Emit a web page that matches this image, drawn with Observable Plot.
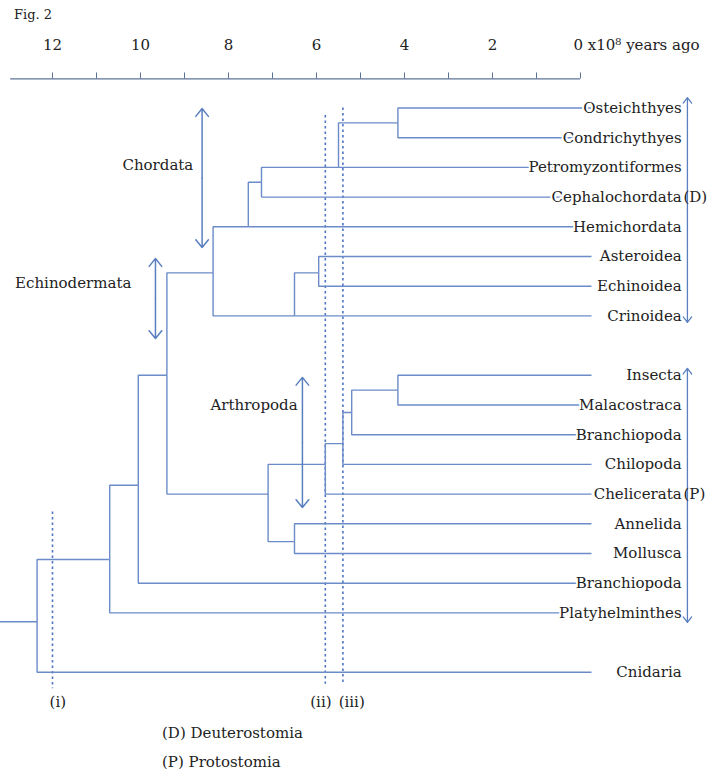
<!DOCTYPE html>
<html>
<head>
<meta charset="utf-8">
<script src="https://cdn.jsdelivr.net/npm/d3@7"></script>
<script src="https://cdn.jsdelivr.net/npm/@observablehq/plot@0.6"></script>
<style>
  html, body { margin: 0; padding: 0; background: #fff; }
  body { width: 713px; font-family: "DejaVu Serif", serif; color: #222; }
  #fig { height: 30px; line-height: 30px; padding-left: 14px; font-size: 13px; }
  #chart svg { display: block; }
  #notes { padding-left: 162px; margin-top: 4px; font-size: 15px; line-height: 29px; }
</style>
</head>
<body>
<div id="fig">Fig. 2</div>
<div id="chart"></div>
<div id="notes"><div>(D) Deuterostomia</div><div>(P) Protostomia</div></div>
<script>
// ---- data (ages in 10^8 years ago, rows top to bottom) ----
const tickValues = [12, 11, 10, 9, 8, 7, 6, 5, 4, 3, 2, 1, 0];
const tickLabels = [12, 10, 8, 6, 4, 2];
const zeroLabel = "0 x10\u2078 years ago";

const leafNames = ["Osteichthyes","Condrichythyes","Petromyzontiformes","Cephalochordata","Hemichordata",
  "Asteroidea","Echinoidea","Crinoidea","Insecta","Malacostraca","Branchiopoda","Chilopoda","Chelicerata",
  "Annelida","Mollusca","Branchiopoda","Platyhelminthes","Cnidaria"];
const leafRows = [0,1,2,3,4,5,6,7,9,10,11,12,13,14,15,16,17,19];
const leafParents = ["A","A","B","C","D","G","G","F","N","N","M","L","J","K","K","O","P","Q"];
const leafAge = -0.25;

const nodeIds     = ["A","B","C","D","E","F","G","H","I","J","K","L","M","N","O","P","Q"];
const nodeAges    = [4.15,5.5,7.25,7.55,8.35,6.5,5.95,9.4,7.1,5.8,6.5,5.4,5.2,4.15,10.05,10.7,12.35];
const nodeRows    = [0.5,2,2.5,4,5.55,7,5.55,9,13,12,14.6,11.3,10.25,9.5,12.7,15.2,17.3];
const nodeParents = ["B","C","D","E","H","E","F","O","H","I","I","J","L","M","P","Q",null];
const rootStemAge = 13.2;

// vertical reference lines (i), (ii), (iii)
const refNames = ["(i)","(ii)","(iii)"];
const refAges = [12.0, 5.8, 5.4];
const refTop = [13.6, 0.25, 0.0];
const refBottom = [19.55, 19.4, 19.4];
const refLabelAges = [11.88, 5.9, 5.2];
const refLabelRow = 20.0;

// clade annotations
const cladeNames = ["Chordata","Echinodermata","Arthropoda"];
const cladeArrowAges = [8.6, 9.66, 6.32];
const cladeArrowTop = [0.02, 5.07, 9.07];
const cladeArrowBottom = [4.7, 7.76, 13.45];
const cladeLabelAges = [8.8, 12.85, 6.43];
const cladeLabelRows = [1.94, 5.89, 10.0];
const cladeAnchors = ["end","start","end"];

// big brackets (D) and (P)
const groupTags = ["(D)","(P)"];
const groupTagRows = [3, 13];
const groupArrowTop = [-0.35, 8.77];
const groupArrowBottom = [7.22, 17.32];
const groupAge = -2.43;
const tagAge = -2.34;
const labelAge = -2.3;

const axisRow = -0.98;
const axisStart = 12.95;
const axisLabelRow = -2.1;

// ---- build tables ----
const nodes = new Map(nodeIds.map((id, i) => [id, {id, age: nodeAges[i], row: nodeRows[i], parent: nodeParents[i]}]));
const edges = [];
nodes.forEach(n => { if (n.parent) { const p = nodes.get(n.parent); edges.push({x1: p.age, y1: p.row, x2: n.age, y2: n.row}); } });
leafNames.forEach((name, i) => { const p = nodes.get(leafParents[i]); edges.push({x1: p.age, y1: p.row, x2: leafAge, y2: leafRows[i]}); });
const root = nodes.get("Q");
edges.push({x1: rootStemAge, y1: root.row, x2: root.age, y2: root.row});
const leaves = leafNames.map((name, i) => ({name, row: leafRows[i]}));
const refs = refNames.map((name, i) => ({name, age: refAges[i], top: refTop[i], bottom: refBottom[i], labelAge: refLabelAges[i]}));
const clades = cladeNames.map((name, i) => ({name, age: cladeArrowAges[i], top: cladeArrowTop[i], bottom: cladeArrowBottom[i],
  mid: (cladeArrowTop[i] + cladeArrowBottom[i]) / 2, labelAge: cladeLabelAges[i], labelRow: cladeLabelRows[i], anchor: cladeAnchors[i]}));
const groups = groupTags.map((tag, i) => ({tag, row: groupTagRows[i], top: groupArrowTop[i], bottom: groupArrowBottom[i],
  mid: (groupArrowTop[i] + groupArrowBottom[i]) / 2}));

const W = 713, H = 685;
const treeColor = "#6b8cc8";
const dotColor = "#4f76c4";
const arrowColor = "#5a7fbf";
const font = "DejaVu Serif";
const fs = 15;

const chart = Plot.plot({
  width: W, height: H, margin: 0,
  style: {fontFamily: font, background: "white"},
  x: {domain: [580 / 44, (580 - W) / 44], range: [0, W], axis: null},
  y: {domain: [-77.5 / 29.7, (H - 77.5) / 29.7], range: [0, H], axis: null},
  marks: [
    // time axis
    Plot.ruleY([axisRow], {x1: axisStart, x2: 0, stroke: "#5d7396", strokeWidth: 1.3}),
    Plot.ruleX(tickValues, {x: d => d, y1: axisRow, y2: axisRow - 0.2, stroke: "#5d7396", strokeWidth: 1}),
    Plot.text(tickLabels, {x: d => d, y: axisLabelRow, text: d => String(d), fontSize: fs, fill: "#222"}),
    Plot.text([zeroLabel], {x: 0, y: axisLabelRow, text: d => d, textAnchor: "start", dx: -7, fontSize: fs, fill: "#222"}),
    // reference dotted lines
    Plot.ruleX(refs, {x: "age", y1: "top", y2: "bottom", stroke: dotColor, strokeWidth: 1.6, strokeDasharray: "2.5,3"}),
    // tree
    Plot.link(edges, {x1: "x1", y1: "y1", x2: "x2", y2: "y2", curve: "step-before", stroke: treeColor, strokeWidth: 1.4}),
    // leaf labels
    Plot.text(leaves, {x: labelAge, y: "row", text: "name", textAnchor: "end", fontSize: fs, fill: "#222",
      stroke: "white", strokeWidth: 4}),
    // big brackets
    Plot.arrow(groups, {x1: groupAge, y1: "mid", x2: groupAge, y2: "top", stroke: arrowColor, strokeWidth: 1.3, headAngle: 75, headLength: 8}),
    Plot.arrow(groups, {x1: groupAge, y1: "mid", x2: groupAge, y2: "bottom", stroke: arrowColor, strokeWidth: 1.3, headAngle: 75, headLength: 8}),
    Plot.text(groups, {x: tagAge, y: "row", text: "tag", textAnchor: "start", fontSize: fs, fill: "#222"}),
    // clade arrows and labels
    Plot.arrow(clades, {x1: "age", y1: "mid", x2: "age", y2: "top", stroke: arrowColor, strokeWidth: 1.5, headAngle: 78, headLength: 10}),
    Plot.arrow(clades, {x1: "age", y1: "mid", x2: "age", y2: "bottom", stroke: arrowColor, strokeWidth: 1.5, headAngle: 78, headLength: 10}),
    Plot.text(clades.filter(d => d.anchor === "end"), {x: "labelAge", y: "labelRow", text: "name", textAnchor: "end", fontSize: fs, fill: "#222"}),
    Plot.text(clades.filter(d => d.anchor === "start"), {x: "labelAge", y: "labelRow", text: "name", textAnchor: "start", fontSize: fs, fill: "#222"}),
    // reference labels
    Plot.text(refs, {x: "labelAge", y: refLabelRow, text: "name", fontSize: fs, fill: "#222"})
  ]
});
document.getElementById("chart").appendChild(chart);
</script>
</body>
</html>
